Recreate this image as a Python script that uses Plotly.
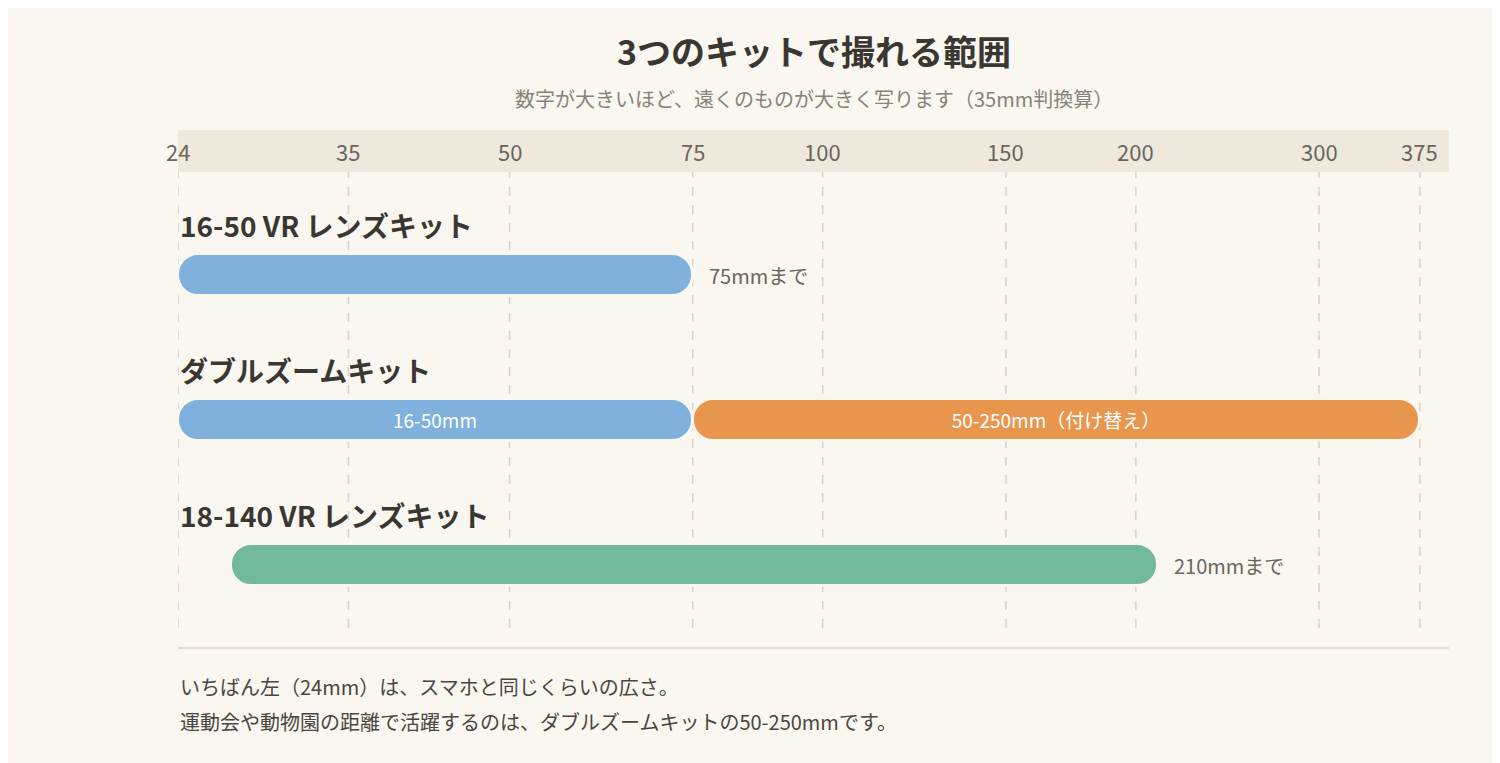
import math
import plotly.graph_objects as go

kits = ["16-50 VR レンズキット", "ダブルズームキット", "18-140 VR レンズキット"]
seg_row = [0, 1, 1, 2]
seg_start = [24, 24, 75, 27]
seg_end = [75, 75, 375, 210]
seg_color = ["#80B1DD", "#80B1DD", "#E8964E", "#72B89A"]
seg_inside = ["", "16-50mm", "50-250mm（付け替え）", ""]
seg_after = ["75mmまで", "", "", "210mmまで"]
tick_vals = [24, 35, 50, 75, 100, 150, 200, 300, 375]
title = "3つのキットで撮れる範囲"
subtitle = "数字が大きいほど、遠くのものが大きく写ります（35mm判換算）"
notes = ["いちばん左（24mm）は、スマホと同じくらいの広さ。",
         "運動会や動物園の距離で活躍するのは、ダブルズームキットの50-250mmです。"]

BG = "#FAF6F0"
FONT = "Noto Sans CJK JP"
fig = go.Figure()
fig.add_trace(go.Bar(
    orientation="h", y=seg_row, base=seg_start,
    x=[e - s for s, e in zip(seg_start, seg_end)],
    width=0.29, marker=dict(color=seg_color, cornerradius="50%",
                            line=dict(color=BG, width=3)),
    text=seg_inside, textposition="inside", insidetextanchor="middle",
    textfont=dict(color="white", size=19, family=FONT),
    hoverinfo="skip", showlegend=False))

ann = []
for i, k in enumerate(kits):
    ann.append(dict(x=0, xref="paper", y=i - 0.345, yref="y", text=f"<b>{k}</b>",
                    showarrow=False, xanchor="left", yanchor="middle",
                    font=dict(size=28, color="#3a3632", family=FONT)))
for r, e, t in zip(seg_row, seg_end, seg_after):
    if t:
        ann.append(dict(x=math.log10(e), xref="x", y=r, yref="y", text=t, showarrow=False,
                        xanchor="left", yanchor="middle", xshift=14,
                        font=dict(size=20, color="#6b655e", family=FONT)))
shapes = [dict(type="rect", xref="paper", yref="paper", x0=0, x1=1, y0=0.919, y1=1,
               fillcolor="#EEE8DD", line_width=0, layer="below")]
for v in tick_vals:
    ann.append(dict(x=math.log10(v), xref="x", y=0.9595, yref="paper", yanchor="middle",
                    text=str(v), showarrow=False,
                    font=dict(size=22, color="#6b655e", family=FONT)))
    shapes.append(dict(type="line", xref="x", yref="paper", x0=v, x1=v, y0=0.0386, y1=0.919,
                       line=dict(color="#D8D2C8", width=1.5, dash="dash"), layer="below"))
shapes.append(dict(type="line", xref="paper", yref="paper", x0=0, x1=1, y0=0, y1=0,
                   line=dict(color="#E3DDD0", width=2)))
fig.update_layout(annotations=ann)
fig.add_annotation(x=0.5, xref="paper", y=1.0, yref="paper", yanchor="middle", yshift=80,
                   text=f"<b>{title}</b>", showarrow=False,
                   font=dict(size=34, color="#3a3632", family=FONT))
fig.add_annotation(x=0.5, xref="paper", y=1.0, yref="paper", yanchor="middle", yshift=32,
                   text=subtitle, showarrow=False, font=dict(size=20, color="#8a8278", family=FONT))
for j, n in enumerate(notes):
    fig.add_annotation(x=0, xref="paper", y=0, yref="paper", yanchor="middle",
                       yshift=-38 - 35 * j, text=n,
                       showarrow=False, xanchor="left", font=dict(size=20, color="#4a4540", family=FONT))

fig.update_layout(
    width=1500, height=763, paper_bgcolor=BG, plot_bgcolor=BG,
    margin=dict(l=170, r=59, t=122, b=123), shapes=shapes, bargap=0,
    xaxis=dict(type="log", range=[math.log10(24), math.log10(400)], showgrid=False,
               showticklabels=False, zeroline=False),
    yaxis=dict(range=[2.572, -1.0], showgrid=False, showticklabels=False, zeroline=False),
    font=dict(family=FONT))
fig.write_html("out.html")
